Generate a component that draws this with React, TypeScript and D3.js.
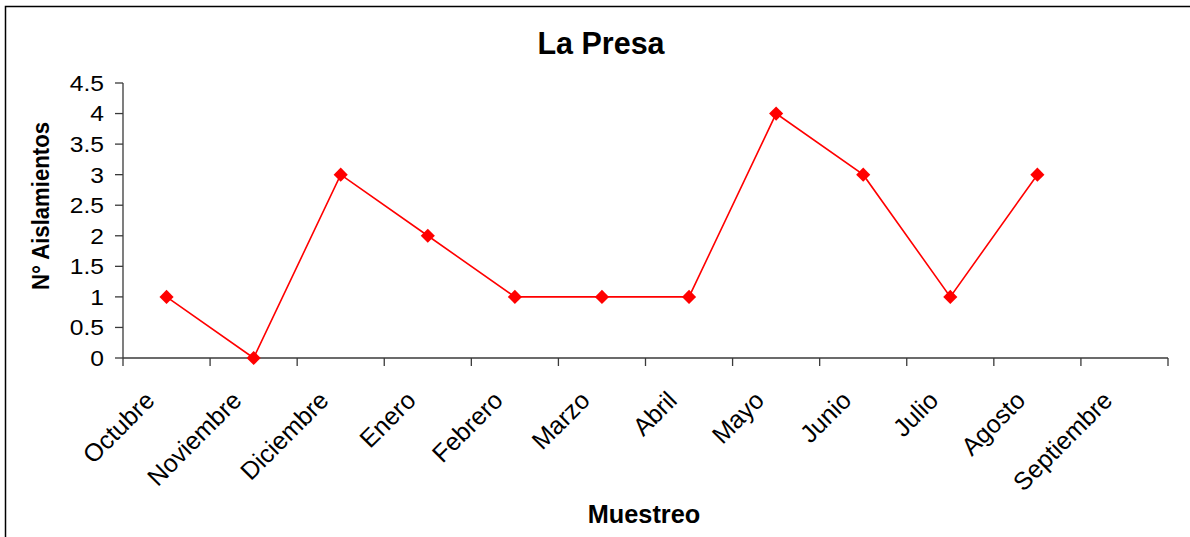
import React from "react";
import * as d3 from "d3";

const months = ["Octubre","Noviembre","Diciembre","Enero","Febrero","Marzo","Abril","Mayo","Junio","Julio","Agosto","Septiembre"];
const values: (number | null)[] = [1, 0, 3, 2, 1, 1, 1, 4, 3, 1, 3, null];
const yTicks = [0, 0.5, 1, 1.5, 2, 2.5, 3, 3.5, 4, 4.5];
const title = "La Presa";
const xTitle = "Muestreo";
const yTitle = "N° Aislamientos";

const W = 1190, H = 537;
const font = "'Liberation Sans', Arial, sans-serif";

export default function App() {
  const x = d3.scaleBand<string>().domain(months).range([123, 1168]).padding(0);
  const y = d3.scaleLinear().domain([0, 4.5]).range([358, 83]);
  const cx = (m: string) => (x(m) as number) + x.bandwidth() / 2;
  const pts = months.map((m, i) => ({ m, v: values[i] }));
  const line = d3.line<{ m: string; v: number | null }>()
    .defined(d => d.v !== null)
    .x(d => cx(d.m))
    .y(d => y(d.v as number));
  const diamond = d3.symbol().type(d3.symbolSquare).size(100)() as string;
  const axisColor = "#3a3a3a";
  const tickPos = [...months.map(m => x(m) as number), 1168];

  return (
    <svg width={W} height={H} style={{ position: "absolute", left: 0, top: 0, background: "#fff" }}>
      <rect x={0} y={0} width={W} height={H} fill="#fff" />
      <rect x={5.5} y={6.5} width={1200} height={560} fill="none" stroke="#000" strokeWidth={1.5} />
      <text x={601} y={54} textAnchor="middle" fontFamily={font} fontWeight="bold" fontSize={30.5}>{title}</text>
      {/* y axis */}
      <line x1={123} x2={123} y1={y(4.5)} y2={y(0)} stroke={axisColor} strokeWidth={1.3} />
      {yTicks.map(t => (
        <g key={t}>
          <line x1={115} x2={123} y1={y(t)} y2={y(t)} stroke={axisColor} strokeWidth={1.3} />
          <text transform={`translate(104,${y(t)}) scale(1.12,1)`} dy="0.36em" textAnchor="end" fontFamily={font} fontSize={22}>{String(t)}</text>
        </g>
      ))}
      {/* x axis */}
      <line x1={123} x2={1168} y1={y(0)} y2={y(0)} stroke={axisColor} strokeWidth={1.3} />
      {tickPos.map((p, i) => (
        <line key={i} x1={p} x2={p} y1={y(0)} y2={y(0) + 8} stroke={axisColor} strokeWidth={1.3} />
      ))}
      {months.map(m => (
        <text key={m} transform={`translate(${cx(m) - 10.5},${402}) rotate(-45)`} textAnchor="end"
          fontFamily={font} fontSize={25}>{m}</text>
      ))}
      <text x={644} y={523} textAnchor="middle" fontFamily={font} fontWeight="bold" fontSize={25.3}>{xTitle}</text>
      <text transform={`translate(49,206) rotate(-90)`} textAnchor="middle" fontFamily={font} fontWeight="bold"
        fontSize={23.5} textLength={168} lengthAdjust="spacingAndGlyphs">{yTitle}</text>
      {/* series */}
      <path d={line(pts) as string} fill="none" stroke="#ff0000" strokeWidth={1.6} />
      {pts.filter(p => p.v !== null).map(p => (
        <path key={p.m} d={diamond} transform={`translate(${cx(p.m)},${y(p.v as number)}) rotate(45)`} fill="#ff0000" />
      ))}
    </svg>
  );
}
